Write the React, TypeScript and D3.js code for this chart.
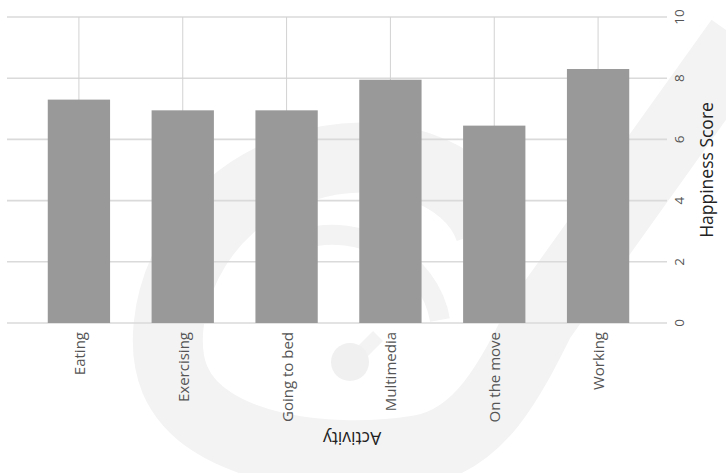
import React from "react";
import * as d3 from "d3";

const categories = ["Eating", "Exercising", "Going to bed", "Multimedia", "On the move", "Working"];
const scores = [7.3, 6.95, 6.95, 7.95, 6.45, 8.3];
const yTicks = [0, 2, 4, 6, 8, 10];
const xTitle = "Activity";
const yTitle = "Happiness Score";

const W = 726;
const H = 473;

export default function App() {
  const x = d3.scaleBand<string>().domain(categories).range([27, 650]).paddingInner(0.4).paddingOuter(0.2);
  const y = d3.scaleLinear().domain([0, 10]).range([323, 17]);
  const font = "'Open Sans', 'Noto Sans', sans-serif";

  const ring = d3.path();
  ring.moveTo(300, 168);
  ring.bezierCurveTo(190, 200, 150, 320, 175, 380);
  ring.bezierCurveTo(205, 450, 330, 465, 420, 450);
  ring.bezierCurveTo(480, 440, 510, 380, 540, 320);
  ring.lineTo(740, 40);

  return (
    <svg width={W} height={H} style={{ position: "absolute", left: 0, top: 0, background: "#fff" }}>
      <g fill="none" stroke="#f3f3f3">
        <path d={ring.toString()} strokeWidth={70} />
        <path d="M 300 168 C 380 140 470 170 490 230" strokeWidth={70} />
        <path d="M 300 240 C 360 220 430 260 440 320" strokeWidth={20} />
        <path d="M 352 362 L 378 336" strokeWidth={14} />
      </g>
      <circle cx={350} cy={362} r={19} fill="#f0f0f0" />
      <g>
        {yTicks.map((t) => (
          <line key={"h" + t} x1={7} x2={667} y1={y(t)} y2={y(t)} stroke="#dadada" strokeWidth={1.6} />
        ))}
        {categories.map((c) => (
          <line key={"v" + c} x1={x(c)! + x.bandwidth() / 2} x2={x(c)! + x.bandwidth() / 2} y1={y(10)} y2={y(0)} stroke="#d2d2d2" strokeWidth={1} />
        ))}
      </g>
      <g>
        {categories.map((c, i) => (
          <rect key={c} x={x(c)!} y={y(scores[i])} width={x.bandwidth()} height={y(0) - y(scores[i])} fill="#999999" />
        ))}
      </g>
      <g fontFamily={font} fontSize={13.5} fill="#555">
        {yTicks.map((t) => (
          <text key={"t" + t} transform={`translate(679,${y(t)}) rotate(-90)`} textAnchor="middle" dominantBaseline="central">
            {t}
          </text>
        ))}
      </g>
      <g fontFamily={font} fontSize={15} fill="#555">
        {categories.map((c) => (
          <text key={"l" + c} transform={`translate(${x(c)! + x.bandwidth() / 2},332) rotate(-90)`} textAnchor="end" dominantBaseline="central">
            {c}
          </text>
        ))}
      </g>
      <text transform="translate(706,170) rotate(-90)" textAnchor="middle" dominantBaseline="central" fontFamily={font} fontSize={17.5} fill="#222">
        {yTitle}
      </text>
      <text transform="translate(352,439) rotate(180)" textAnchor="middle" dominantBaseline="central" fontFamily={font} fontSize={17.5} fill="#222">
        {xTitle}
      </text>
    </svg>
  );
}
